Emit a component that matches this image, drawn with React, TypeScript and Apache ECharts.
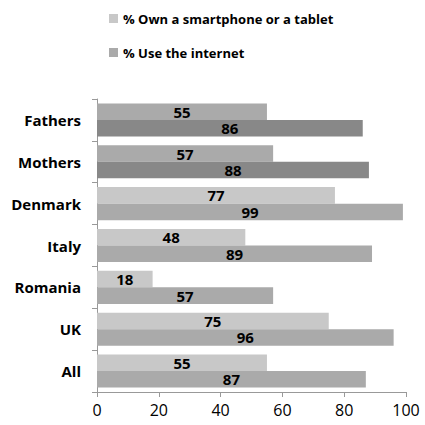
import React, { useEffect, useRef } from "react";
import * as echarts from "echarts";

const categories = ["Fathers", "Mothers", "Denmark", "Italy", "Romania", "UK", "All"];
const ownDevice = [55, 57, 77, 48, 18, 75, 55];
const useInternet = [86, 88, 99, 89, 57, 96, 87];
const parentCategories = ["Fathers", "Mothers"];
const seriesNames = ["% Own a smartphone or a tablet", "% Use the internet"];
const xTicks = [0, 20, 40, 60, 80, 100];

const FONT = "'Open Sans', 'Liberation Sans', sans-serif";

export default function App() {
  const ref = useRef<HTMLDivElement>(null);
  useEffect(() => {
    if (!ref.current) return;
    const chart = echarts.init(ref.current, undefined, { renderer: "svg" });
    const label = {
      show: true,
      position: "inside",
      color: "#000",
      fontWeight: "bold",
      fontSize: 15,
      fontFamily: FONT,
    };
    chart.setOption({
      animation: false,
      backgroundColor: "#fff",
      legend: {
        orient: "vertical",
        left: 104,
        top: 7,
        itemGap: 21,
        itemWidth: 9,
        itemHeight: 9,
        icon: "rect",
        data: seriesNames,
        textStyle: { fontFamily: FONT, fontWeight: "bold", fontSize: 13, color: "#000" },
      },
      grid: { left: 97, right: 19, top: 99, bottom: 33 },
      xAxis: {
        type: "value",
        min: 0,
        max: 100,
        interval: 20,
        splitLine: { show: false },
        axisLine: { show: true, lineStyle: { color: "#999" } },
        axisTick: { show: true, length: 5, lineStyle: { color: "#999" } },
        axisLabel: {
          color: "#000",
          fontSize: 16,
          fontFamily: FONT,
          margin: 10,
          formatter: (v: number) => (xTicks.includes(v) ? String(v) : ""),
        },
      },
      yAxis: {
        type: "category",
        inverse: true,
        data: categories,
        axisLine: { show: true, lineStyle: { color: "#999" } },
        axisTick: { show: true, length: 5, lineStyle: { color: "#999" } },
        axisLabel: {
          color: "#000",
          fontWeight: "bold",
          fontSize: 15,
          fontFamily: FONT,
          margin: 16,
        },
      },
      series: [
        {
          name: seriesNames[0],
          type: "bar",
          barGap: "0%",
          barCategoryGap: "21%",
          itemStyle: { color: "#c8c8c8" },
          label,
          data: ownDevice.map((v, i) =>
            parentCategories.includes(categories[i])
              ? { value: v, itemStyle: { color: "#aaaaaa" } }
              : v
          ),
        },
        {
          name: seriesNames[1],
          type: "bar",
          barGap: "0%",
          barCategoryGap: "21%",
          itemStyle: { color: "#aaaaaa" },
          label,
          data: useInternet.map((v, i) =>
            parentCategories.includes(categories[i])
              ? { value: v, itemStyle: { color: "#888888" } }
              : v
          ),
        },
      ],
    });
    return () => chart.dispose();
  }, []);
  return <div ref={ref} style={{ width: 425, height: 425, position: "absolute", left: 0, top: 0 }} />;
}
